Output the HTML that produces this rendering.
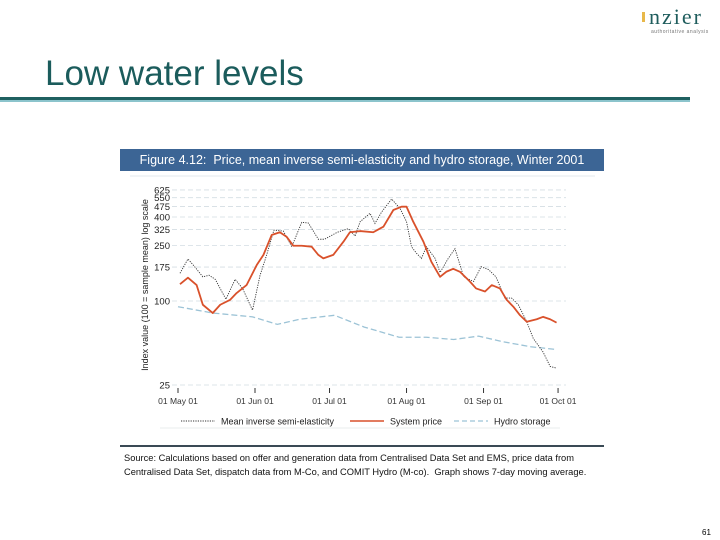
<!DOCTYPE html>
<html><head><meta charset="utf-8"><style>
body{margin:0;width:720px;height:540px;background:#fff;overflow:hidden;position:relative;font-family:"Liberation Sans",sans-serif}
.abs{position:absolute}
</style></head><body>
<div class="abs" style="left:642px;top:4px;width:76px;height:34px">
<div style="position:absolute;left:0;top:8px;width:3px;height:10px;background:#e8b84a"></div>
<div style="position:absolute;left:7px;top:0;font-family:'Liberation Serif',serif;font-size:22px;letter-spacing:2px;color:#1f5d5d">nzier</div>
<div style="position:absolute;left:9px;top:25px;font-size:5px;color:#777;letter-spacing:0.5px">authoritative analysis</div>
</div>
<div class="abs" style="left:45px;top:54px;font-size:35px;color:#1b5c5c;white-space:nowrap">Low water levels</div>
<div class="abs" style="left:0;top:97px;width:690px;height:3px;background:#1f6060"></div>
<div class="abs" style="left:0;top:100px;width:690px;height:2px;background:#8cc4cc"></div>
<div class="abs" style="left:120px;top:149px;width:484px;height:22px;background:#3c6595;color:#fff;font-size:12.5px;line-height:22px;text-align:center">Figure 4.12:&nbsp; Price, mean inverse semi-elasticity and hydro storage, Winter 2001</div>
<div class="abs" style="left:120px;top:445px;width:484px;height:2px;background:#3a4a55"></div>
<div class="abs" style="left:124px;top:451px;font-size:9.3px;line-height:14px;color:#111;white-space:nowrap">Source: Calculations based on offer and generation data from Centralised Data Set and EMS, price data from<br>Centralised Data Set, dispatch data from M-Co, and COMIT Hydro (M-co).&nbsp; Graph shows 7-day moving average.</div>
<div class="abs" style="left:702px;top:528px;font-size:8px">61</div>
<svg class="abs" style="left:0;top:0" width="720" height="540" id="chart"></svg>
<script>
const tickVals=[25,100,175,250,325,400,475,550,625];
const monthLabels=["01 May 01","01 Jun 01","01 Jul 01","01 Aug 01","01 Sep 01","01 Oct 01"];
const monthDays=[0,31,61,92,123,153];
const priceDays=[0.8,4,7.5,10,14,17,21,23.6,27.6,31.7,34.4,37.7,41,43.7,46.4,49.8,53.8,56.5,58.5,62.5,66.6,69.2,73.3,78.6,82.7,86.7,90,92,94.7,98.8,102,105.5,108,110.8,113.5,117.5,120,123.6,126.3,129.6,132.3,135,137.7,140.4,144.4,147,149.8,152.4];
const priceVals=[132,147,130,94,82,94,102,114,130,181,214,297,311,289,249,249,245,214,202,214,266,311,317,311,341,449,474,474,370,266,191,149,162,170,162,138,123,117,130,123,102,91,79,71,74,77,74,70];
const elasDays=[0.8,4,6.5,10,12.5,15,19.3,23,26,30,33,35.7,38.6,42.4,45.8,49.8,52.5,56.5,59,64,68.6,71.3,73.3,77.3,79.3,82,86,89.4,92,94,96,98,100,103.5,105.5,108.8,111.5,115,119,122,125,128,131.6,134.3,137,140.4,143,147,149.8,152.4];
const elasVals=[158,200,178,149,153,143,103,143,123,86,152,214,322,317,245,366,362,277,277,310,330,292,370,425,360,435,538,460,370,245,220,202,245,202,160,202,237,149,138,176,168,149,105,105,94,71,54,43,34,33];
const hydroDays=[0,14,30,40,49,63,75,89,100,111,121,131,142,152];
const hydroVals=[91,82,77,68,74,79,65,55,55,53,56,51,47,45];
const NS="http://www.w3.org/2000/svg";
const svg=document.getElementById('chart');
const x=d=>178+d*2.484;
const y=v=>301-60.6*Math.log(v/100);
function mk(t,a){const e=document.createElementNS(NS,t);for(const k in a)e.setAttribute(k,a[k]);svg.appendChild(e);return e;}
tickVals.forEach(v=>{
 const g=mk('line',{x1:172,x2:566,y1:y(v),y2:y(v),stroke:'#d4dde3','stroke-width':0.8,'stroke-dasharray':'5,3'});
 
 
 const t=mk('text',{x:170,y:y(v)+3.5,'text-anchor':'end','font-size':9.5,fill:'#222'});
 t.textContent=v;
 
 
});
monthDays.forEach((d,i)=>{
 const l=mk('line',{x1:x(d),x2:x(d),y1:388,y2:393,stroke:'#333','stroke-width':1});
 
 
 const t=mk('text',{x:x(d),y:404,'text-anchor':'middle','font-size':8.5,fill:'#333'});
 t.textContent=monthLabels[i];
 
 
});
const yt=mk('text',{x:0,y:0,'font-size':9,fill:'#222','text-anchor':'middle',transform:'translate(148,285) rotate(-90)'});
yt.textContent='Index value (100 = sample mean) log scale';


function line(ds,vs,attrs,name){
 const p=mk('polyline',Object.assign({points:ds.map((d,i)=>x(d)+','+y(vs[i])).join(' '),fill:'none'},attrs));
 
 
}
line(hydroDays,hydroVals,{stroke:'#9cc3d6','stroke-width':1.3,'stroke-dasharray':'6,3'},'hydro-storage-line');
line(elasDays,elasVals,{stroke:'#333','stroke-width':0.9,'stroke-dasharray':'1.2,1.2'},'elasticity-line');
line(priceDays,priceVals,{stroke:'#d9512b','stroke-width':1.8,'stroke-linejoin':'round'},'system-price-line');
const sep=mk('line',{x1:130,x2:595,y1:176,y2:176,stroke:'#e3e8ec','stroke-width':1});


const sep2=mk('line',{x1:160,x2:560,y1:428,y2:428,stroke:'#e8ecee','stroke-width':1});


const leg=[[181,'Mean inverse semi-elasticity',{stroke:'#333','stroke-dasharray':'1.2,1.2','stroke-width':1}],[350,'System price',{stroke:'#d9512b','stroke-width':1.6}],[454,'Hydro storage',{stroke:'#9cc3d6','stroke-dasharray':'5,3','stroke-width':1.3}]];
leg.forEach(([lx,txt,st])=>{
 const l=mk('line',Object.assign({x1:lx,x2:lx+34,y1:421,y2:421},st));
 
 
 const t=mk('text',{x:lx+40,y:424.5,'font-size':9,fill:'#222'});
 t.textContent=txt;
 
 
});
</script>
</body></html>
